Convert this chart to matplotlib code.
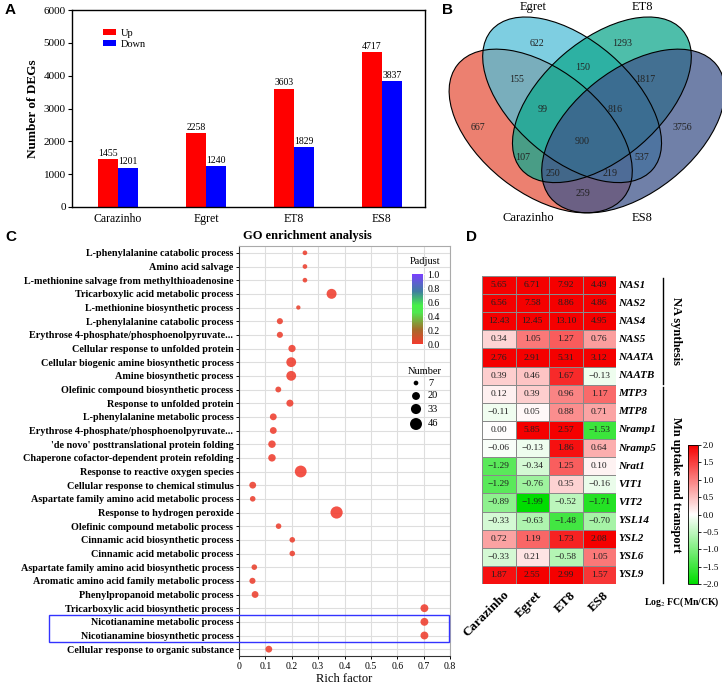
import numpy as np
import matplotlib
matplotlib.use("Agg")
import matplotlib.pyplot as plt
from matplotlib.patches import Ellipse, Rectangle
from matplotlib.colors import LinearSegmentedColormap, Normalize
from matplotlib.cm import ScalarMappable
import matplotlib.transforms as mtrans

plt.rcParams['font.family'] = ['Liberation Serif', 'DejaVu Serif']
plt.rcParams['mathtext.fontset'] = 'stix'

# ---------------- data ----------------
deg_groups = ["Carazinho", "Egret", "ET8", "ES8"]
deg_up = [1455, 2258, 3603, 4717]
deg_down = [1201, 1240, 1829, 3837]

venn_names = ["Carazinho", "Egret", "ET8", "ES8"]
venn_regions = ["A", "B", "C", "D", "AB", "BC", "CD", "AD", "ABC", "BCD",
                "AC", "BD", "ACD", "ABD", "ABCD"]
venn_counts = [667, 622, 1293, 3756, 155, 150, 1817, 259, 99, 816,
               107, 537, 250, 219, 900]

go_terms = [
    "L-phenylalanine catabolic process",
    "Amino acid salvage",
    "L-methionine salvage from methylthioadenosine",
    "Tricarboxylic acid metabolic process",
    "L-methionine biosynthetic process",
    "L-phenylalanine catabolic process",
    "Erythrose 4-phosphate/phosphoenolpyruvate...",
    "Cellular response to unfolded protein",
    "Cellular biogenic amine biosynthetic process",
    "Amine biosynthetic process",
    "Olefinic compound biosynthetic process",
    "Response to unfolded protein",
    "L-phenylalanine metabolic process",
    "Erythrose 4-phosphate/phosphoenolpyruvate...",
    "'de novo' posttranslational protein folding",
    "Chaperone cofactor-dependent protein refolding",
    "Response to reactive oxygen species",
    "Cellular response to chemical stimulus",
    "Aspartate family amino acid metabolic process",
    "Response to hydrogen peroxide",
    "Olefinic compound metabolic process",
    "Cinnamic acid biosynthetic process",
    "Cinnamic acid metabolic process",
    "Aspartate family amino acid biosynthetic process",
    "Aromatic amino acid family metabolic process",
    "Phenylpropanoid metabolic process",
    "Tricarboxylic acid biosynthetic process",
    "Nicotianamine metabolic process",
    "Nicotianamine biosynthetic process",
    "Cellular response to organic substance",
]
go_rich = [0.25, 0.25, 0.25, 0.351, 0.225, 0.155, 0.155, 0.201, 0.198, 0.198,
           0.149, 0.193, 0.13, 0.13, 0.125, 0.125, 0.234, 0.052, 0.052, 0.370,
           0.15, 0.202, 0.202, 0.058, 0.051, 0.061, 0.703, 0.703, 0.703, 0.113]
go_number = [7, 7, 7, 32, 6, 12, 12, 17, 31, 31, 11, 16, 15, 15, 18, 18, 45, 15,
             10, 48, 10, 10, 10, 10, 12, 15, 20, 20, 20, 15]
go_padj = [0.02, 0.02, 0.02, 0.01, 0.03, 0.02, 0.02, 0.01, 0.01, 0.01,
           0.02, 0.01, 0.01, 0.01, 0.01, 0.01, 0.00, 0.02, 0.02, 0.00,
           0.02, 0.02, 0.02, 0.03, 0.02, 0.02, 0.01, 0.01, 0.01, 0.02]
num_legend = [7, 20, 33, 46]

genes = ["NAS1", "NAS2", "NAS4", "NAS5", "NAATA", "NAATB", "MTP3", "MTP8",
         "Nramp1", "Nramp5", "Nrat1", "VIT1", "VIT2", "YSL14", "YSL2", "YSL6", "YSL9"]
hm_cols = ["Carazinho", "Egret", "ET8", "ES8"]
fc_carazinho = [5.65, 6.56, 12.43, 0.34, 2.76, 0.39, 0.12, -0.11, 0.00, -0.06,
                -1.29, -1.29, -0.89, -0.33, 0.72, -0.33, 1.87]
fc_egret = [6.71, 7.58, 12.45, 1.05, 2.91, 0.46, 0.39, 0.05, 5.85, -0.13,
            -0.34, -0.76, -1.99, -0.63, 1.19, 0.21, 2.55]
fc_et8 = [7.92, 8.86, 13.10, 1.27, 5.31, 1.67, 0.96, 0.88, 2.57, 1.86,
          1.25, 0.35, -0.52, -1.48, 1.73, -0.58, 2.99]
fc_es8 = [4.49, 4.86, 4.95, 0.76, 3.12, -0.13, 1.17, 0.71, -1.53, 0.64,
          0.10, -0.16, -1.71, -0.70, 2.08, 1.05, 1.57]
gene_groups = [("NA synthesis", 0, 6), ("Mn uptake and transport", 6, 17)]

# ---------------- figure ----------------
W, H = 722, 686
fig = plt.figure(figsize=(W / 100, H / 100), dpi=100)


def box(x0, y0, x1, y1):
    return [x0 / W, 1 - y1 / H, (x1 - x0) / W, (y1 - y0) / H]


ov = fig.add_axes([0, 0, 1, 1], zorder=10)
ov.set_xlim(0, W)
ov.set_ylim(H, 0)
ov.axis('off')
ov.set_facecolor('none')

for lab, (px, py) in zip("ABCD", [(5, 10), (442, 10), (5, 237), (466, 237)]):
    ov.text(px, py, lab, fontsize=11, fontweight='bold', family='Liberation Sans',
            ha='left', va='center')

# ---------------- Panel A ----------------
axA = fig.add_axes(box(72, 10, 425, 207))
xg = np.arange(len(deg_groups))
bw = 0.227
axA.bar(xg - bw / 2, deg_up, bw, color='#FF0000', label='Up')
axA.bar(xg + bw / 2, deg_down, bw, color='#0000FF', label='Down')
for xi, v in zip(xg, deg_up):
    axA.text(xi - bw / 2, v + 40, str(v), ha='center', va='bottom', fontsize=7)
for xi, v in zip(xg, deg_down):
    axA.text(xi + bw / 2, v + 40, str(v), ha='center', va='bottom', fontsize=7)
axA.set_xlim(-0.523, 3.49)
axA.set_ylim(0, 6000)
axA.set_yticks(range(0, 6001, 1000))
axA.set_xticks(xg)
axA.set_xticklabels(deg_groups, fontsize=8.5)
axA.tick_params(axis='y', labelsize=8, length=3, width=0.8, pad=1.5)
axA.tick_params(axis='x', length=0, pad=4)
axA.set_ylabel('Number of DEGs', fontsize=9.5, fontweight='bold', labelpad=3)
for s in axA.spines.values():
    s.set_linewidth(1.0)
axA.legend(loc='upper left', bbox_to_anchor=(0.072, 0.93), frameon=False,
           fontsize=7.5, handlelength=1.3, handleheight=0.55, labelspacing=0.15,
           borderpad=0, handletextpad=0.4)

# ---------------- Panel B (Venn) ----------------
axB = fig.add_axes(box(440, 0, 722, 230))
axB.set_xlim(440, 722)
axB.set_ylim(230, 0)
axB.axis('off')

x_sym = 587
# (center, width, height, angle) of the outer (A) and inner (B) ellipses; C, D mirrored
geoA = ((540.7, 131.0), 212.6, 123.1, 38.5)
geoB = ((572.1, 99.8), 212.9, 118.7, 40.8)


def mirror(g):
    (cx, cy), w, h, a = g
    return ((2 * x_sym - cx, cy), w, h, 180 - a)


ell = [(geoA, '#E65640'), (geoB, '#53BED7'),
       (mirror(geoB), '#12A88E'), (mirror(geoA), '#40568B')]
for (c, w, h, a), col in ell:
    axB.add_patch(Ellipse(c, w, h, angle=a, facecolor=col, alpha=0.75,
                          edgecolor='none', clip_on=False))
for (c, w, h, a), col in ell:
    axB.add_patch(Ellipse(c, w, h, angle=a, facecolor='none',
                          edgecolor='black', lw=0.8, clip_on=False))

venn_pos = {"A": (478, 127), "B": (537, 43), "C": (622, 43), "D": (682, 127),
            "AB": (517, 80), "BC": (583, 67), "CD": (645, 80), "AD": (583, 193),
            "ABC": (543, 109), "BCD": (615, 109), "AC": (523, 157), "BD": (642, 157),
            "ACD": (553, 174), "ABD": (610, 174), "ABCD": (582, 142)}
for r, n in zip(venn_regions, venn_counts):
    axB.text(*venn_pos[r], str(n), ha='center', va='center', fontsize=7.2,
             color='#222222')
for name, pos in zip(venn_names, [(528, 218), (533, 7), (642, 7), (642, 218)]):
    axB.text(*pos, name, ha='center', va='center', fontsize=9, clip_on=False)

# ---------------- Panel C ----------------
cmapC = LinearSegmentedColormap.from_list(
    'padj', [(0.0, '#F23B2E'), (0.2, '#A8682A'), (0.45, '#4FE84F'),
             (0.55, '#48F048'), (0.75, '#3F7F9F'), (1.0, '#7A40FF')])
axC = fig.add_axes(box(239, 246, 450, 656))
yy = np.arange(len(go_terms))
size_k = 1.61
axC.scatter(go_rich, yy, s=np.array(go_number) * size_k, c=go_padj, cmap=cmapC,
            vmin=0, vmax=1, alpha=0.88, edgecolors='none', zorder=3)
axC.set_xlim(0, 0.8)
axC.set_ylim(len(go_terms) - 0.5, -0.5)
axC.set_yticks(yy)
axC.set_yticklabels(go_terms, fontsize=7.3, fontweight='bold')
xt = np.round(np.arange(0, 0.81, 0.1), 1)
axC.set_xticks(xt)
axC.set_xticklabels(['0'] + ['%.1f' % v for v in xt[1:]], fontsize=7)
axC.tick_params(length=2.5, width=0.7, pad=1.5)
axC.grid(True, color='#DEDEDE', lw=0.8)
axC.set_axisbelow(True)
for k_, s in axC.spines.items():
    s.set_linewidth(0.8)
    s.set_color('#333333' if k_ in ('left', 'bottom') else '#AAAAAA')
axC.set_xlabel('Rich factor', fontsize=9, labelpad=2)
ov.text(307, 236, 'GO enrichment analysis', fontsize=9, fontweight='bold',
        ha='center', va='center')
trC = mtrans.blended_transform_factory(axC.transAxes, axC.transData)
axC.add_patch(Rectangle((-0.9, 26.5), 1.895, 2.0, transform=trC, fill=False,
                        edgecolor='#3333FF', lw=1.0, clip_on=False, zorder=5))
caxC = fig.add_axes(box(412, 274, 423, 344))
cbC = fig.colorbar(ScalarMappable(Normalize(0, 1), cmapC), cax=caxC)
cbC.set_ticks([0, 0.2, 0.4, 0.6, 0.8, 1.0])
cbC.set_ticklabels(['0.0', '0.2', '0.4', '0.6', '0.8', '1.0'])
cbC.ax.tick_params(labelsize=7, length=2, width=0.6, pad=1, color='white')
cbC.outline.set_visible(False)
ov.text(425, 262, 'Padjust', fontsize=7.5, ha='center', va='center')
ov.text(425, 371, 'Number', fontsize=7.5, ha='center', va='center')
for n, py in zip(num_legend, [383, 396, 409, 424]):
    ov.scatter([416], [py], s=n * size_k, color='black', edgecolors='none')
    ov.text(428, py, str(n), fontsize=7.5, ha='left', va='center')

# ---------------- Panel D ----------------
cmapD = LinearSegmentedColormap.from_list('gwr', ['#00DD00', '#FFFFFF', '#F50000'])
M = np.array([fc_carazinho, fc_egret, fc_et8, fc_es8]).T
axD = fig.add_axes(box(482, 276, 616, 584))
axD.pcolormesh(np.arange(M.shape[1] + 1), np.arange(M.shape[0] + 1), M,
               cmap=cmapD, vmin=-2, vmax=2, edgecolors='#8A8A8A', linewidth=0.5)
axD.set_xlim(0, M.shape[1])
axD.set_ylim(M.shape[0], 0)
axD.set_xticks([])
axD.set_yticks([])
for s in axD.spines.values():
    s.set_visible(False)
for i in range(M.shape[0]):
    for j in range(M.shape[1]):
        axD.text(j + 0.5, i + 0.5, ('%.2f' % M[i, j]).replace('-', '\u2212'),
                 ha='center', va='center', fontsize=6.8, color='#202020')
for i, g in enumerate(genes):
    axD.text(M.shape[1] + 0.06, i + 0.5, g, ha='left', va='center', fontsize=8,
             fontweight='bold', fontstyle='italic', clip_on=False)
col_px = [499, 532, 566, 599]
for cx, name in zip(col_px, hm_cols):
    ov.text(cx + 4, 589, name, rotation=45, ha='right', va='top',
            rotation_mode='anchor', fontsize=9.5, fontweight='bold')
row_h = (584 - 276) / len(genes)
for name, i0, i1 in gene_groups:
    y0 = 276 + i0 * row_h + 2
    y1 = 276 + i1 * row_h - 1
    ov.plot([663, 663], [y0, y1], color='black', lw=1.0)
    ov.text(676, (y0 + y1) / 2, name, rotation=270, ha='center', va='center',
            fontsize=9, fontweight='bold')
caxD = fig.add_axes(box(688, 445, 698, 584))
cbD = fig.colorbar(ScalarMappable(Normalize(-2, 2), cmapD), cax=caxD)
tv = [2.0, 1.5, 1.0, 0.5, 0.0, -0.5, -1.0, -1.5, -2.0]
cbD.set_ticks(tv)
cbD.set_ticklabels([('%.1f' % v).replace('-', '\u2212') for v in tv])
cbD.ax.tick_params(labelsize=6.5, length=2, width=0.6, pad=1)
cbD.outline.set_linewidth(0.6)
ov.text(682, 602, r'Log$_2$ FC(Mn/CK)', fontsize=7, fontweight='bold',
        ha='center', va='center')

fig.savefig('out.png', dpi=100)
